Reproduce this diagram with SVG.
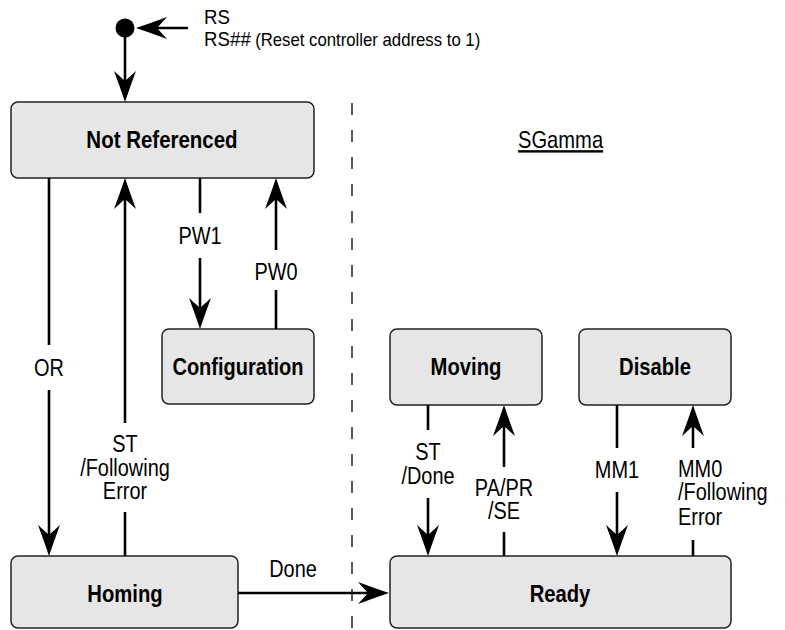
<svg xmlns="http://www.w3.org/2000/svg" width="785" height="630" viewBox="0 0 785 630">
  <style>
    .box { fill: #e6e6e6; stroke: #222; stroke-width: 1.5; }
    .bold { font-family: "Liberation Sans", Arial, sans-serif; font-weight: bold; font-size: 23px; fill: #000; text-anchor: middle; }
    .lbl { font-family: "Liberation Sans", Arial, sans-serif; font-size: 24px; fill: #000; text-anchor: middle; }
    .lbl-l { font-family: "Liberation Sans", Arial, sans-serif; font-size: 24px; fill: #000; text-anchor: start; }
    .edge { stroke: #000; stroke-width: 2.6; fill: none; }
    .arr { stroke: #000; stroke-width: 2.6; fill: none; marker-end: url(#ah); }
    .divider { stroke: #000; stroke-width: 1.3; stroke-dasharray: 12 15; }
  </style>
  <defs>
    <marker id="ah" markerUnits="userSpaceOnUse" markerWidth="33" markerHeight="24" viewBox="0 0 33 24" refX="19" refY="12" orient="auto">
      <path d="M0,1 Q16,7 31,12 Q16,17 0,23 L10,12 Z" fill="#000"/>
    </marker>
  </defs>

  <line class="divider" x1="352" y1="103" x2="352" y2="630"/>

  <g id="initial">
    <circle cx="125" cy="28" r="9.5" fill="#000"/>
    <text class="lbl-l" transform="translate(204,24) scale(0.93,1)" style="font-size:20px">RS</text>
    <text class="lbl-l" transform="translate(204,46) scale(0.93,1)"><tspan style="font-size:20px">RS</tspan><tspan style="font-size:20px;font-style:italic">##</tspan><tspan style="font-size:18px"> (Reset controller address to 1)</tspan></text>
  </g>

  <g id="not-referenced">
    <rect class="box" x="11" y="102" width="303" height="76" rx="7"/>
    <text class="bold" transform="translate(162,148) scale(0.89,1)">Not Referenced</text>
  </g>

  <g id="configuration">
    <rect class="box" x="162" y="329" width="152" height="75" rx="7"/>
    <text class="bold" transform="translate(238,375) scale(0.87,1)">Configuration</text>
  </g>

  <g id="homing">
    <rect class="box" x="11" y="556" width="227" height="72" rx="7"/>
    <text class="bold" transform="translate(125,602) scale(0.88,1)">Homing</text>
  </g>

  <g id="sgamma">
    <text class="lbl-l" transform="translate(518,148) scale(0.84,1)" text-decoration="underline">SGamma</text>
  </g>

  <g id="moving">
    <rect class="box" x="390" y="329" width="152" height="76" rx="7"/>
    <text class="bold" transform="translate(466,375) scale(0.88,1)">Moving</text>
  </g>

  <g id="disable">
    <rect class="box" x="579" y="329" width="152" height="76" rx="7"/>
    <text class="bold" transform="translate(655,375) scale(0.88,1)">Disable</text>
  </g>

  <g id="ready">
    <rect class="box" x="390" y="556" width="341" height="72" rx="7"/>
    <text class="bold" transform="translate(560,602) scale(0.88,1)">Ready</text>
  </g>

  <g id="connectors">
    <!-- RS into initial dot -->
    <line class="arr" x1="188" y1="28" x2="148" y2="28"/>
    <!-- initial to Not Referenced -->
    <line class="arr" x1="125" y1="28" x2="125" y2="90"/>

    <!-- OR -->
    <line class="edge" x1="49" y1="178" x2="49" y2="345"/>
    <line class="arr" x1="49" y1="390" x2="49" y2="544"/>
    <text class="lbl" transform="translate(49,376) scale(0.83,1)">OR</text>

    <!-- ST / Following Error -->
    <line class="edge" x1="125" y1="556" x2="125" y2="512"/>
    <line class="arr" x1="125" y1="423" x2="125" y2="190"/>
    <text class="lbl" transform="translate(125,452) scale(0.83,1)">ST</text>
    <text class="lbl" transform="translate(125,476) scale(0.83,1)">/Following</text>
    <text class="lbl" transform="translate(125,499) scale(0.83,1)">Error</text>

    <!-- PW1 -->
    <line class="edge" x1="200" y1="178" x2="200" y2="213"/>
    <line class="arr" x1="200" y1="258" x2="200" y2="317"/>
    <text class="lbl" transform="translate(200,244) scale(0.83,1)">PW1</text>

    <!-- PW0 -->
    <line class="edge" x1="276" y1="329" x2="276" y2="290"/>
    <line class="arr" x1="276" y1="250" x2="276" y2="190"/>
    <text class="lbl" transform="translate(276,280) scale(0.83,1)">PW0</text>

    <!-- Done -->
    <line class="arr" x1="238" y1="593" x2="377" y2="593"/>
    <text class="lbl" transform="translate(293,577) scale(0.83,1)">Done</text>

    <!-- ST / Done -->
    <line class="edge" x1="428" y1="405" x2="428" y2="430"/>
    <line class="arr" x1="428" y1="498" x2="428" y2="544"/>
    <text class="lbl" transform="translate(428,460) scale(0.83,1)">ST</text>
    <text class="lbl" transform="translate(428,484) scale(0.83,1)">/Done</text>

    <!-- PA/PR/SE -->
    <line class="edge" x1="504" y1="556" x2="504" y2="532"/>
    <line class="arr" x1="504" y1="467" x2="504" y2="417"/>
    <text class="lbl" transform="translate(504,496) scale(0.83,1)">PA/PR</text>
    <text class="lbl" transform="translate(504,519) scale(0.83,1)">/SE</text>

    <!-- MM1 -->
    <line class="edge" x1="617" y1="405" x2="617" y2="448"/>
    <line class="arr" x1="617" y1="492" x2="617" y2="544"/>
    <text class="lbl" transform="translate(617,478) scale(0.83,1)">MM1</text>

    <!-- MM0 / Following Error -->
    <line class="edge" x1="693" y1="556" x2="693" y2="540"/>
    <line class="arr" x1="693" y1="448" x2="693" y2="417"/>
    <text class="lbl-l" transform="translate(678,477) scale(0.83,1)">MM0</text>
    <text class="lbl-l" transform="translate(678,500) scale(0.83,1)">/Following</text>
    <text class="lbl-l" transform="translate(678,525) scale(0.83,1)">Error</text>
  </g>
</svg>
